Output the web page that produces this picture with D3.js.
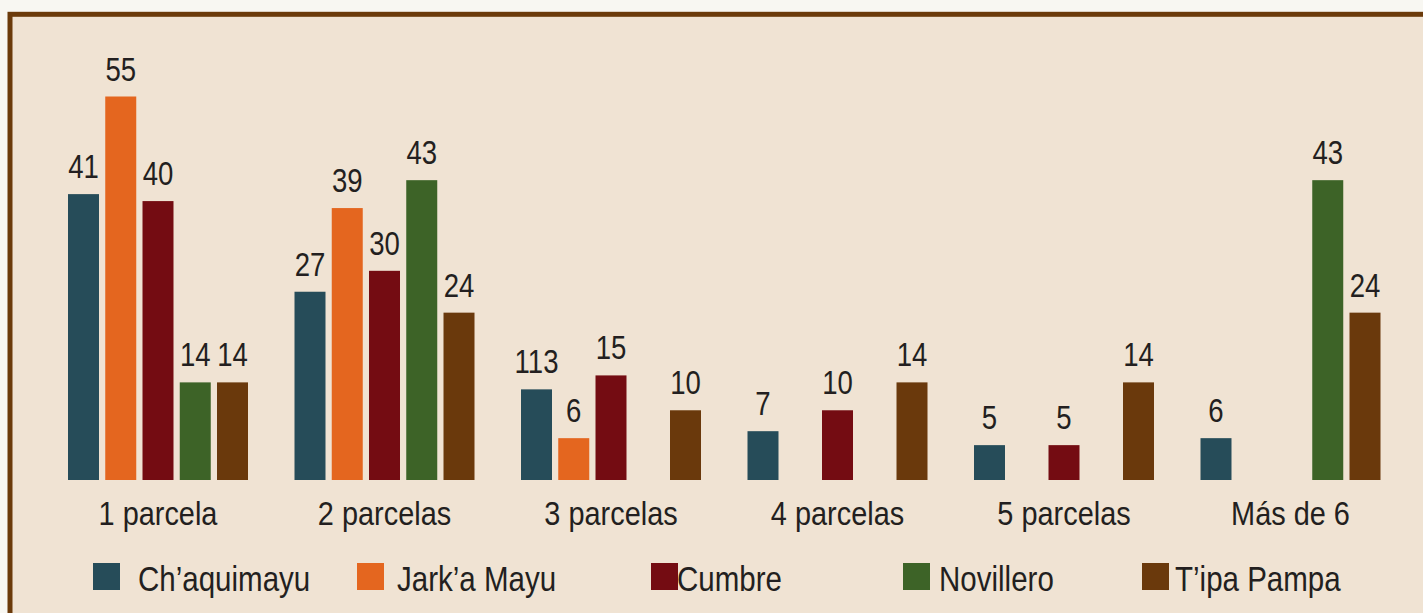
<!DOCTYPE html>
<html><head><meta charset="utf-8">
<script src="https://cdn.jsdelivr.net/npm/d3@7"></script>
<style>html,body{margin:0;padding:0;background:#f8f7f2;overflow:hidden} svg{display:block}</style>
</head><body><svg id="chart" width="1423" height="613"></svg>
<script>
// ---- data ----
const categories = ["1 parcela", "2 parcelas", "3 parcelas", "4 parcelas", "5 parcelas", "Más de 6"];
const seriesNames = ["Ch’aquimayu", "Jark’a Mayu", "Cumbre", "Novillero", "T’ipa Pampa"];
const chaquimayu = [41, 27, 13, 7, 5, 6];
const jarkaMayu  = [55, 39, 6, null, null, null];
const cumbre     = [40, 30, 15, 10, 5, null];
const novillero  = [14, 43, null, null, null, 43];
const tipaPampa  = [14, 24, 10, 14, 14, 24];
// label text as printed in the source (value 13 is printed "113")
const printedLabels = { "Ch’aquimayu|3 parcelas": "113" };

// ---- styles ----
const colors = ["#264c59", "#e4661f", "#740c12", "#3d6327", "#6a390c"];
const FONT = "'Liberation Sans', Arial, sans-serif";
const NARROW = 0.81;

const seriesValues = [chaquimayu, jarkaMayu, cumbre, novillero, tipaPampa];
const rows = [];
categories.forEach((c, ci) => seriesNames.forEach((s, si) => {
  const v = seriesValues[si][ci];
  if (v != null) rows.push({ cat: c, series: s, value: v, si });
}));

const svg = d3.select("#chart");

// frame
svg.append("rect").attr("x", 10).attr("y", 14.3).attr("width", 1500).attr("height", 700)
  .attr("fill", "#f0e3d3").attr("stroke", "#6b3a0a").attr("stroke-width", 5);

const x0 = d3.scaleBand().domain(categories).range([68, 1380.5]).paddingInner(0.2053).paddingOuter(0);
const x1 = d3.scaleBand().domain(seriesNames).range([0, x0.bandwidth()]).paddingInner(0.168).paddingOuter(0);
const y = d3.scaleLinear().domain([0, 55]).range([480, 96.5]);
const color = d3.scaleOrdinal().domain(seriesNames).range(colors);

const g = svg.append("g");
g.selectAll("rect.bar").data(rows).join("rect").attr("class", "bar")
  .attr("x", d => x0(d.cat) + x1(d.series))
  .attr("y", d => y(d.value))
  .attr("width", x1.bandwidth())
  .attr("height", d => y(0) - y(d.value))
  .attr("fill", d => color(d.series));

g.selectAll("text.val").data(rows).join("text").attr("class", "val")
  .attr("transform", d => `translate(${x0(d.cat) + x1(d.series) + x1.bandwidth() / 2},${y(d.value) - 16}) scale(${NARROW},1)`)
  .attr("text-anchor", "middle")
  .attr("font-family", FONT).attr("font-size", 34).attr("fill", "#231f20")
  .text(d => printedLabels[d.series + "|" + d.cat] || d.value);

// category axis labels
const xAxis = d3.axisBottom(x0).tickSize(0).tickPadding(0);
const ax = svg.append("g").attr("transform", "translate(0,480)").call(xAxis);
ax.select(".domain").remove();
ax.selectAll("text").attr("dy", null).attr("y", 45)
  .attr("transform", "scale(0.85,1)")
  .attr("font-family", FONT).attr("font-size", 34).attr("fill", "#231f20");

// legend
const legendLayout = [
  { sq: 93, tx: 138 }, { sq: 357, tx: 397 }, { sq: 651, tx: 677 },
  { sq: 903, tx: 939 }, { sq: 1142, tx: 1175 }
];
const lg = svg.append("g");
seriesNames.forEach((s, i) => {
  lg.append("rect").attr("x", legendLayout[i].sq).attr("y", 563).attr("width", 27).attr("height", 27)
    .attr("fill", color(s));
  lg.append("text").attr("transform", `translate(${legendLayout[i].tx},591) scale(0.82,1)`)
    .attr("font-family", FONT).attr("font-size", 36).attr("fill", "#231f20").text(s);
});
</script>
</body></html>
